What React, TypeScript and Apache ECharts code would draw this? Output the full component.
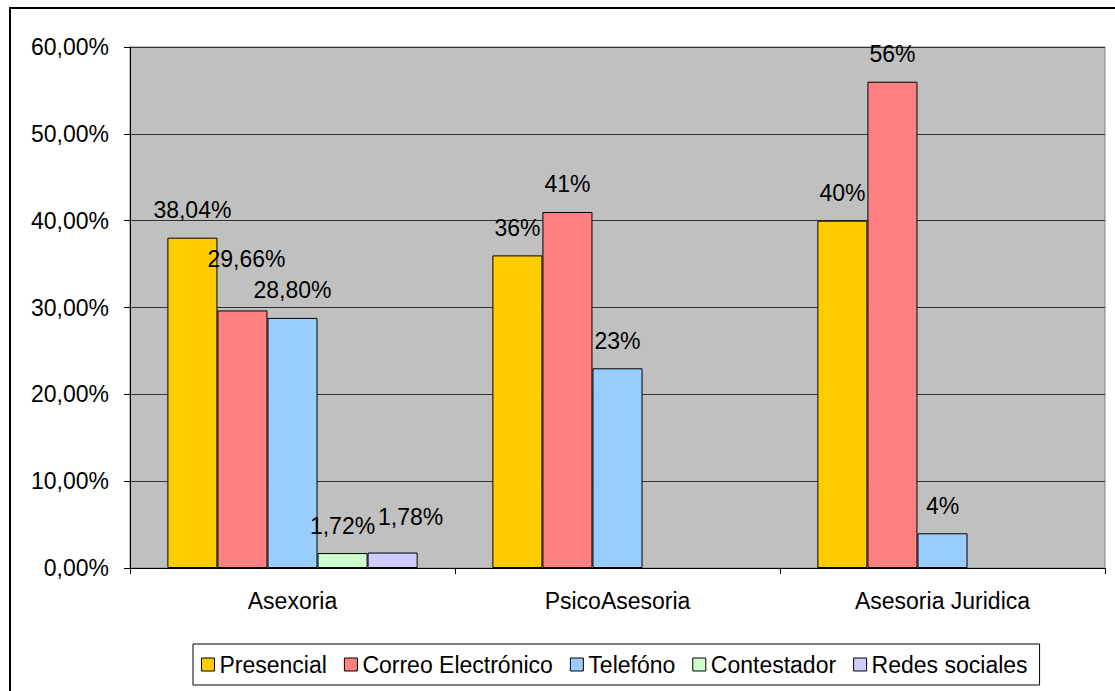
import React, { useEffect, useRef } from "react";
import * as echarts from "echarts";

const categories = ["Asexoria", "PsicoAsesoria", "Asesoria Juridica"];
const seriesNames = ["Presencial", "Correo Electrónico", "Telefóno", "Contestador", "Redes sociales"];
const presencial = [38.04, 36, 40];
const correo = [29.66, 41, 56];
const telefono = [28.8, 23, 4];
const contestador: (number | null)[] = [1.72, null, null];
const redes: (number | null)[] = [1.78, null, null];
const colors = ["#FFCC00", "#FF8080", "#99CCFF", "#CCFFCC", "#CCCCFF"];
const yTicks = [0, 10, 20, 30, 40, 50, 60];

const FONT = "Arial, 'Liberation Sans', sans-serif";
const FS = 23;

function fmtLabel(v: number, catIdx: number): string {
  if (catIdx === 0) return v.toFixed(2).replace(".", ",") + "%";
  return Math.round(v) + "%";
}

// manual label nudges (series index -> category index -> offset)
const labelNudges: Record<string, [number, number]> = {
  "1-0": [4, -24],
  "4-0": [18, -8],
};

export default function App() {
  const ref = useRef<HTMLDivElement>(null);
  useEffect(() => {
    if (!ref.current) return;
    const chart = echarts.init(ref.current, null, { renderer: "svg" });
    const all = [presencial, correo, telefono, contestador, redes];
    const series = all.map((arr, si) => ({
      name: seriesNames[si],
      type: "bar",
      barGap: "0%",
      barCategoryGap: "23%",
      itemStyle: { color: colors[si], borderColor: "#000", borderWidth: 1 },
      data: arr.map((v, ci) => {
        if (v === null) return null;
        const nudge = labelNudges[`${si}-${ci}`];
        return {
          value: v,
          label: {
            show: true,
            position: "top",
            distance: 16,
            color: "#000",
            fontSize: FS,
            fontFamily: FONT,
            formatter: fmtLabel(v, ci),
            offset: nudge ? nudge : [0, 0],
          },
        };
      }),
    }));
    chart.setOption({
      animation: false,
      backgroundColor: "#fff",
      textStyle: { fontFamily: FONT },
      graphic: [
        {
          type: "rect",
          shape: { x: 10, y: 8, width: 1300, height: 900 },
          style: { fill: "none", stroke: "#000", lineWidth: 2 },
          silent: true,
          z: 100,
        },
      ],
      grid: {
        left: 130,
        top: 47,
        right: 10,
        bottom: 123,
        show: true,
        backgroundColor: "#C0C0C0",
        borderColor: "#808080",
        borderWidth: 1,
      },
      legend: {
        data: seriesNames,
        left: 193,
        top: 644,
        orient: "horizontal",
        backgroundColor: "#fff",
        borderColor: "#000",
        borderWidth: 1,
        padding: [9, 12, 9, 8],
        itemWidth: 13,
        itemHeight: 13,
        itemGap: 17,
        icon: "rect",
        textStyle: { fontSize: FS, color: "#000", fontFamily: FONT },
        itemStyle: { borderColor: "#000", borderWidth: 1 },
      },
      xAxis: {
        type: "category",
        data: categories,
        axisLine: { show: true, lineStyle: { color: "#000", width: 1 } },
        axisTick: { show: true, length: 6, lineStyle: { color: "#000" } },
        axisLabel: { fontSize: FS, color: "#000", fontFamily: FONT, margin: 21 },
        splitLine: { show: false },
      },
      yAxis: {
        type: "value",
        min: yTicks[0],
        max: yTicks[yTicks.length - 1],
        interval: 10,
        axisLine: { show: true, lineStyle: { color: "#000", width: 1 } },
        axisTick: { show: true, length: 6, lineStyle: { color: "#000" } },
        axisLabel: {
          fontSize: FS,
          color: "#000",
          fontFamily: FONT,
          margin: 21,
          formatter: (v: number) => v.toFixed(2).replace(".", ",") + "%",
        },
        splitLine: { show: true, lineStyle: { color: "#333", width: 1 } },
      },
      series,
    });
    return () => chart.dispose();
  }, []);
  return (
    <div
      ref={ref}
      style={{ position: "fixed", left: 0, top: 0, width: 1115, height: 691 }}
    />
  );
}
